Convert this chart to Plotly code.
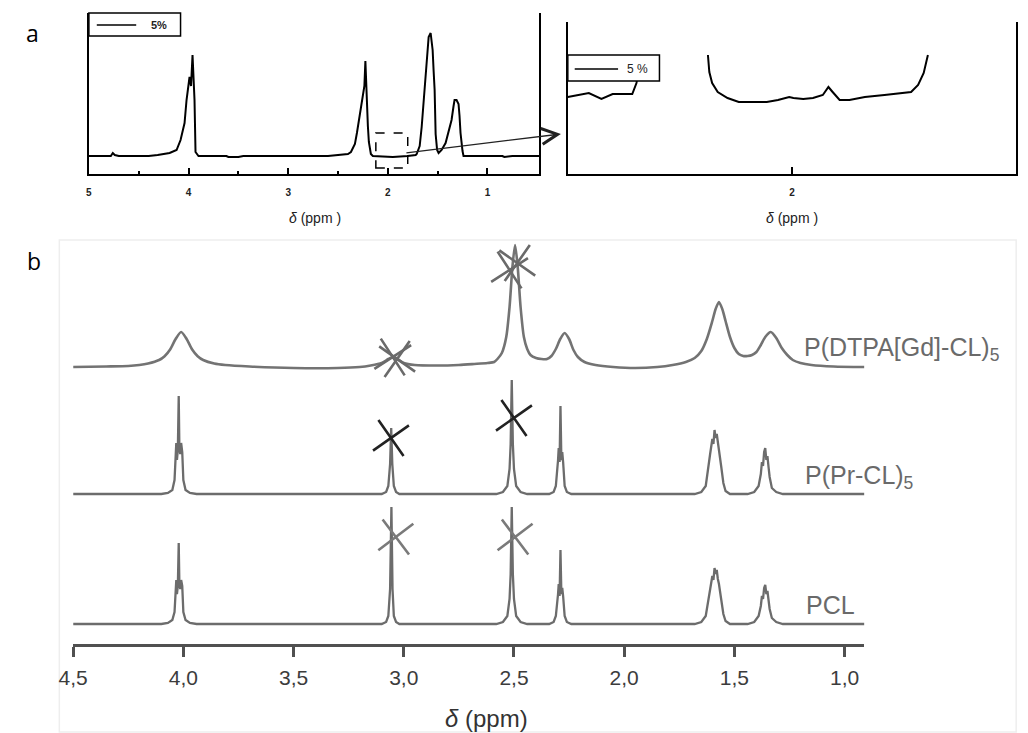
import plotly.graph_objects as go

W, H = 1028, 733

# ---------------- data: panel a (left, full spectrum, 5 %) ----------------
a_points = [
    (5.00, 0.00), (4.78, 0.00), (4.76, 0.03), (4.74, 0.01), (4.70, 0.00), (4.40, 0.00),
    (4.31, 0.01), (4.19, 0.03), (4.12, 0.06), (4.08, 0.16), (4.04, 0.33), (4.02, 0.56),
    (3.99, 0.79), (3.975, 0.70), (3.96, 1.01), (3.95, 0.80), (3.94, 0.56), (3.93, 0.04),
    (3.90, 0.00), (3.62, 0.00), (3.60, -0.01), (3.50, -0.01), (3.45, 0.00), (2.60, 0.00),
    (2.45, 0.01), (2.40, 0.02), (2.37, 0.04), (2.33, 0.12), (2.31, 0.23), (2.29, 0.36),
    (2.27, 0.48), (2.25, 0.62), (2.235, 0.70), (2.225, 0.95), (2.215, 0.60), (2.20, 0.30),
    (2.19, 0.14), (2.17, 0.02), (2.15, 0.00), (1.95, -0.01), (1.80, 0.00), (1.72, 0.01),
    (1.71, 0.02), (1.68, 0.10), (1.66, 0.29), (1.64, 0.56), (1.62, 0.78), (1.61, 0.89),
    (1.59, 1.19), (1.57, 1.23), (1.56, 1.15), (1.55, 1.06), (1.54, 0.85), (1.53, 0.66),
    (1.52, 0.22), (1.505, 0.06), (1.49, 0.03), (1.46, 0.06), (1.42, 0.13), (1.39, 0.25),
    (1.36, 0.36), (1.34, 0.50), (1.33, 0.56), (1.31, 0.56), (1.29, 0.52), (1.28, 0.40),
    (1.27, 0.23), (1.25, 0.05), (1.24, 0.00), (0.85, 0.00), (0.83, -0.01), (0.75, 0.00),
    (0.48, 0.00),
]
a_ticks = [5, 4, 3, 2, 1]
a_minor = [4.5, 3.5, 2.5, 1.5]
zoom_box = (2.12, 1.80, 0.23, -0.12)   # ppm from, ppm to, intensity top, bottom

# ---------------- data: panel a (right, zoom 2.16 - 1.84 ppm) ----------------
zoom_points = [
    (2.160, 77), (2.152, 79), (2.145, 81), (2.136, 75), (2.128, 80), (2.114, 80),
    (2.111, 91), (2.108, 119), (None, None),
    (2.060, 119), (2.059, 102), (2.057, 91), (2.053, 82), (2.046, 76), (2.038, 72),
    (2.018, 72), (2.010, 74), (2.002, 77), (1.999, 76), (1.992, 75), (1.985, 76),
    (1.978, 79), (1.974, 87), (1.971, 82), (1.966, 74), (1.959, 74), (1.948, 77),
    (1.934, 79), (1.915, 82), (1.910, 89), (1.906, 101), (1.903, 119),
]
zoom_ticks = [2]

# ---------------- data: panel b (stacked spectra) ----------------
pcl_points = [
    (4.50, 0), (4.10, 0), (4.07, 1), (4.05, 4), (4.04, 12), (4.036, 38), (4.032, 44),
    (4.029, 30), (4.025, 38), (4.021, 81), (4.018, 40), (4.014, 35), (4.010, 44),
    (4.005, 38), (4.000, 12), (3.99, 4), (3.97, 1), (3.94, 0),
    (3.10, 0), (3.08, 2), (3.07, 8), (3.062, 35), (3.056, 117), (3.051, 35), (3.045, 8),
    (3.035, 2), (3.02, 0),
    (2.58, 0), (2.55, 2), (2.53, 8), (2.52, 25), (2.515, 50), (2.51, 117), (2.505, 50),
    (2.50, 25), (2.49, 8), (2.47, 2), (2.44, 0),
    (2.34, 0), (2.32, 2), (2.31, 8), (2.30, 30), (2.297, 40), (2.293, 28), (2.289, 74),
    (2.285, 30), (2.281, 36), (2.277, 28), (2.27, 8), (2.26, 2), (2.24, 0),
    (1.68, 0), (1.65, 2), (1.63, 8), (1.62, 20), (1.61, 35), (1.60, 48), (1.595, 44),
    (1.59, 56), (1.585, 50), (1.58, 54), (1.575, 45), (1.57, 40), (1.56, 25), (1.55, 10),
    (1.54, 3), (1.52, 0),
    (1.44, 0), (1.41, 2), (1.39, 8), (1.38, 18), (1.375, 28), (1.37, 25), (1.365, 36),
    (1.36, 39), (1.355, 30), (1.35, 33), (1.345, 24), (1.34, 15), (1.33, 6), (1.31, 2),
    (1.28, 0), (0.91, 0),
]
prcl_points = [
    (4.50, 0), (4.10, 0), (4.07, 1), (4.05, 4), (4.04, 14), (4.036, 46), (4.032, 51),
    (4.029, 34), (4.025, 44), (4.021, 98), (4.018, 46), (4.014, 40), (4.010, 51),
    (4.005, 42), (4.000, 14), (3.99, 4), (3.97, 1), (3.94, 0),
    (3.10, 0), (3.08, 2), (3.07, 8), (3.062, 30), (3.057, 66), (3.052, 30), (3.045, 8),
    (3.035, 2), (3.02, 0),
    (2.58, 0), (2.55, 2), (2.53, 8), (2.52, 25), (2.515, 50), (2.51, 114), (2.505, 50),
    (2.50, 25), (2.49, 8), (2.47, 2), (2.44, 0),
    (2.34, 0), (2.32, 2), (2.31, 8), (2.30, 34), (2.297, 46), (2.293, 32), (2.289, 88),
    (2.285, 34), (2.281, 42), (2.277, 32), (2.27, 8), (2.26, 2), (2.24, 0),
    (1.68, 0), (1.65, 2), (1.63, 8), (1.62, 22), (1.61, 40), (1.60, 55), (1.595, 50),
    (1.59, 64), (1.585, 56), (1.58, 60), (1.575, 50), (1.57, 44), (1.56, 28), (1.55, 11),
    (1.54, 3), (1.52, 0),
    (1.44, 0), (1.41, 2), (1.39, 8), (1.38, 20), (1.375, 32), (1.37, 28), (1.365, 42),
    (1.36, 46), (1.355, 34), (1.35, 38), (1.345, 27), (1.34, 17), (1.33, 6), (1.31, 2),
    (1.28, 0), (0.91, 0),
]
dtpa_points = [
    (4.50, 0), (4.35, 0.5), (4.25, 1), (4.20, 2), (4.16, 3.5), (4.11, 7), (4.085, 10.8),
    (4.06, 17.5), (4.035, 28), (4.01, 35), (3.985, 28), (3.96, 17.5), (3.935, 10.8),
    (3.91, 7), (3.86, 3.5), (3.81, 2), (3.70, 0.5), (3.50, -1), (3.30, -1), (3.20, 0),
    (3.15, 1.5), (3.10, 4), (3.07, 8), (3.05, 10), (3.03, 8), (3.00, 4), (2.95, 2),
    (2.85, 1.5), (2.75, 2), (2.68, 3), (2.62, 4), (2.59, 5), (2.575, 8), (2.555, 14),
    (2.535, 30), (2.52, 60), (2.507, 100), (2.495, 122), (2.483, 100), (2.47, 60),
    (2.455, 30), (2.44, 18), (2.425, 12), (2.40, 9), (2.375, 8), (2.35, 8), (2.33, 11),
    (2.31, 18), (2.29, 28), (2.27, 34), (2.25, 28), (2.23, 17), (2.21, 10), (2.18, 5),
    (2.13, 2), (2.05, 0), (1.95, -1), (1.85, 0), (1.78, 2), (1.72, 5), (1.68, 9),
    (1.65, 16), (1.625, 28), (1.60, 46), (1.585, 58), (1.57, 65), (1.555, 58), (1.54, 46),
    (1.52, 30), (1.50, 19), (1.48, 13), (1.46, 11), (1.44, 11), (1.42, 12), (1.40, 15),
    (1.38, 22), (1.36, 30), (1.335, 35), (1.31, 29), (1.285, 19), (1.26, 12), (1.235, 7),
    (1.20, 4), (1.15, 2), (1.05, 0.5), (0.91, 0),
]
series_names = ["PCL", "P(Pr-CL)<sub>5</sub>", "P(DTPA[Gd]-CL)<sub>5</sub>"]
series_offsets = [20, 150, 277]

# crossed-out (solvent) peaks: ppm, height above the series baseline
pcl_cross_ppm, pcl_cross_h = [3.036, 2.495], [87, 87]
prcl_cross_ppm, prcl_cross_h = [3.058, 2.500], [56, 76]
dtpa_cross_ppm, dtpa_cross_h = [3.050, 3.030, 2.520, 2.485], [10, 8, 97, 104]

b_ticks = [4.5, 4.0, 3.5, 3.0, 2.5, 2.0, 1.5, 1.0]
b_ticktext = ["4,5", "4,0", "3,5", "3,0", "2,5", "2,0", "1,5", "1,0"]


def px(x):
    return x / W


def py(y):
    return 1 - y / H


def split(points):
    return [p[0] for p in points], [p[1] for p in points]


fig = go.Figure()

# ---- panel a, left
ax_x, ax_y = split(a_points)
fig.add_trace(go.Scatter(x=ax_x, y=ax_y, mode="lines", name="5%",
                         line=dict(color="black", width=2), xaxis="x", yaxis="y"))

# ---- panel a, right (zoom)
zx, zy = split(zoom_points)
fig.add_trace(go.Scatter(x=zx, y=zy, mode="lines", name="5 %", connectgaps=False,
                         line=dict(color="black", width=2), xaxis="x2", yaxis="y2"))

# ---- panel b spectra
gray_line = "#6c6c6c"
for pts, off, smooth in [(pcl_points, series_offsets[0], False),
                         (prcl_points, series_offsets[1], False),
                         (dtpa_points, series_offsets[2], True)]:
    sx, sy = split(pts)
    fig.add_trace(go.Scatter(
        x=sx, y=[v + off for v in sy], mode="lines",
        line=dict(color="#737373" if smooth else gray_line, width=2.6 if smooth else 2.3,
                  shape="spline" if smooth else "linear", smoothing=0.7),
        xaxis="x3", yaxis="y3"))

# ---- crossed-out peaks
for cx, ch, off, col, angles in [
        (pcl_cross_ppm, pcl_cross_h, series_offsets[0], "#7a7a7a", [8, 8]),
        (prcl_cross_ppm, prcl_cross_h, series_offsets[1], "#222222", [10, 10]),
        (dtpa_cross_ppm, dtpa_cross_h, series_offsets[2], "#6a6a6a", [12, -10, 12, -10])]:
    fig.add_trace(go.Scatter(
        x=cx, y=[h + off for h in ch], mode="markers", cliponaxis=False,
        marker=dict(symbol="x-thin", size=31, angle=angles,
                    line=dict(width=2.6, color=col)),
        xaxis="x3", yaxis="y3"))

# ---------------- axes ----------------
tick_font_a = dict(family="Liberation Sans", size=10, color="#222", weight="bold")
layout = dict(
    width=W, height=H, margin=dict(l=0, r=0, t=0, b=0),
    plot_bgcolor="white", paper_bgcolor="white", showlegend=False,
    xaxis=dict(domain=[px(75), px(532)], range=[5, 0.48], anchor="y",
               showline=True, linecolor="black", linewidth=2, mirror=False,
               ticks="inside", ticklen=6, tickwidth=1.5, tickcolor="black",
               tickvals=a_ticks, ticktext=[str(t) for t in a_ticks],
               tickfont=tick_font_a, ticklabelstandoff=8,
               minor=dict(tickvals=a_minor, ticks="inside", ticklen=3, tickwidth=1.5,
                          tickcolor="black"),
               showgrid=False, zeroline=False),
    yaxis=dict(domain=[py(174), py(13)], range=[-0.18, 1.43], anchor="x",
               showline=True, linecolor="black", linewidth=2, mirror=True,
               showticklabels=False, ticks="", showgrid=False, zeroline=False),
    xaxis2=dict(domain=[px(561), px(1016)], range=[2.16, 1.84], anchor="y2",
                showline=True, linecolor="black", linewidth=2,
                ticks="inside", ticklen=7, tickwidth=1.5, tickcolor="black",
                tickvals=zoom_ticks, ticktext=[str(t) for t in zoom_ticks],
                tickfont=tick_font_a, ticklabelstandoff=8,
                showgrid=False, zeroline=False),
    yaxis2=dict(domain=[py(174), py(22)], range=[0, 152], anchor="x2",
                showline=True, linecolor="black", linewidth=2, mirror=True,
                showticklabels=False, ticks="", showgrid=False, zeroline=False),
    xaxis3=dict(domain=[px(59), px(862)], range=[4.5, 0.91], anchor="y3",
                showline=True, linecolor="#505050", linewidth=3,
                ticks="outside", ticklen=10, tickwidth=2.5, tickcolor="#505050",
                tickvals=b_ticks, ticktext=b_ticktext,
                tickfont=dict(family="Liberation Sans", size=21, color="#3c3c3c"),
                ticklabelstandoff=3, showgrid=False, zeroline=False),
    yaxis3=dict(domain=[py(644), py(240)], range=[0, 404], anchor="x3",
                visible=False, showgrid=False, zeroline=False),
)
fig.update_layout(**layout)

# ---------------- decorations ----------------
shapes = [
    # panel b light frame
    dict(type="rect", xref="paper", yref="paper", x0=px(45), x1=px(1016), y0=py(732), y1=py(240),
         line=dict(color="#eeeeee", width=1.5), layer="below"),
    # dashed zoom window in panel a
    dict(type="rect", xref="x", yref="y", x0=zoom_box[0], x1=zoom_box[1],
         y0=zoom_box[3], y1=zoom_box[2], line=dict(color="black", width=1.5, dash="dash")),
    # legend boxes
    dict(type="rect", xref="paper", yref="paper", x0=px(75), x1=px(168), y0=py(36), y1=py(13),
         line=dict(color="black", width=1.5), fillcolor="white"),
    dict(type="line", xref="paper", yref="paper", x0=px(83), x1=px(123), y0=py(25), y1=py(25),
         line=dict(color="black", width=1.5)),
    dict(type="rect", xref="paper", yref="paper", x0=px(561), x1=px(654), y0=py(81), y1=py(55),
         line=dict(color="black", width=1.5), fillcolor="white"),
    dict(type="line", xref="paper", yref="paper", x0=px(568), x1=px(612), y0=py(69), y1=py(69),
         line=dict(color="black", width=1.5)),
]
fig.update_layout(shapes=shapes)

lab_font = dict(family="Liberation Sans", size=25, color="#6a6a6a")
ann = [
    dict(text="a", x=px(18), y=py(33), font=dict(family="Open Sans", size=23, color="black")),
    dict(text="b", x=px(19), y=py(261), font=dict(family="Open Sans", size=23, color="black")),
    dict(text="5%", x=px(146), y=py(25), font=dict(family="Liberation Sans", size=11, color="#222", weight="bold")),
    dict(text="5 %", x=px(632), y=py(69), font=dict(family="Liberation Sans", size=12, color="#222")),
    dict(text="<i>δ</i> (ppm )", x=px(304), y=py(218), font=dict(family="Liberation Sans", size=14, color="#222")),
    dict(text="<i>δ</i> (ppm )", x=px(788), y=py(218), font=dict(family="Liberation Sans", size=14, color="#222")),
    dict(text="<i>δ</i> (ppm)", x=px(478), y=py(718), font=dict(family="Liberation Sans", size=24, color="#333")),
    dict(text=series_names[2], x=px(799), y=py(349), xanchor="left", font=lab_font),
    dict(text=series_names[1], x=px(800), y=py(477), xanchor="left", font=lab_font),
    dict(text=series_names[0], x=px(801), y=py(605), xanchor="left", font=lab_font),
]
for a in ann:
    a.setdefault("xanchor", "center")
    fig.add_annotation(xref="paper", yref="paper", showarrow=False, yanchor="middle", **a)

# arrow from the dashed window to the zoomed panel (tail offset in pixels)
fig.add_annotation(xref="paper", yref="paper",
                   x=px(554), y=py(134), ax=398 - 554, ay=153 - 134, text="",
                   showarrow=True, arrowhead=5, arrowsize=2.4, arrowwidth=1.3,
                   arrowcolor="#222", standoff=0, startstandoff=0)

fig.write_html("out.html",
               config={"displayModeBar": False},
               post_script="document.body.style.margin='0px';"
                           "document.body.style.overflow='hidden';")
